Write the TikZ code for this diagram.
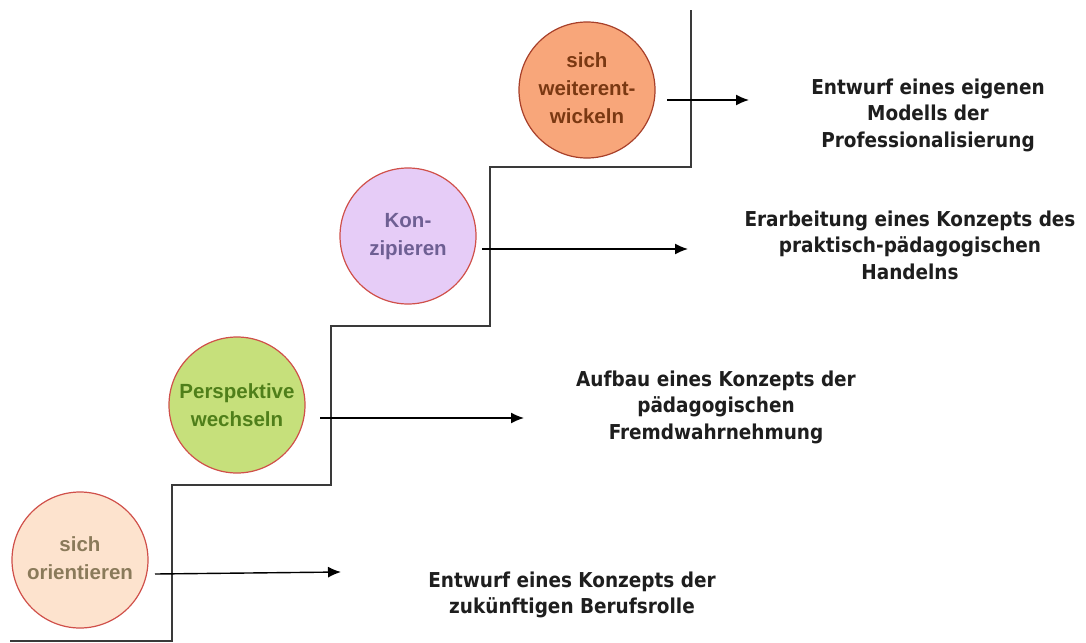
\documentclass[tikz,border=0pt]{standalone}
\usepackage{fontspec}
\usetikzlibrary{arrows.meta}
\newfontfamily\circfont{Liberation Sans}
\newfontfamily\descfont{DejaVu Sans Condensed}
\definecolor{stairgray}{HTML}{3A3A3A}
\definecolor{fillA}{HTML}{FDE3CE}
\definecolor{fillB}{HTML}{C6E07B}
\definecolor{fillC}{HTML}{E6CCF7}
\definecolor{fillD}{HTML}{F8A67A}
\definecolor{textA}{HTML}{8A7A5A}
\definecolor{textB}{HTML}{4F7F1A}
\definecolor{textC}{HTML}{6E5F93}
\definecolor{textD}{HTML}{7A3812}
\definecolor{borderA}{HTML}{D0504A}
\definecolor{borderD}{HTML}{A8402A}
\definecolor{desctext}{HTML}{1E1E1E}
\tikzset{
  x=1pt, y=-1pt,
  stage/.style={circle, draw=borderA, line width=1.2pt, minimum size=136pt, inner sep=0pt,
    align=center, font=\circfont\bfseries\fontsize{20.5}{28}\selectfont},
  desc/.style={align=center, text=desctext, font=\descfont\bfseries\fontsize{20.5}{26.5}\selectfont},
  stair/.style={draw=stairgray, line width=1.6pt},
  link/.style={draw=black, line width=1.4pt, -{Latex[length=13pt,width=11pt]}},
}
\begin{document}
\begin{tikzpicture}
\useasboundingbox[fill=white] (0,0) rectangle (1086,642);
% staircase
\coordinate (s0) at (10,641);
\coordinate (s1) at (172,641);
\coordinate (s2) at (172,485);
\coordinate (s3) at (331,485);
\coordinate (s4) at (331,326);
\coordinate (s5) at (490,326);
\coordinate (s6) at (490,167);
\coordinate (s7) at (691,167);
\coordinate (s8) at (691,10);
\draw[stair] (s0) -- (s1) -- (s2) -- (s3) -- (s4) -- (s5) -- (s6) -- (s7) -- (s8);
% stages
\node[stage, fill=fillA, text=textA] (c1) at (80,560) {\raisebox{10pt}{\begin{tabular}{@{}c@{}}sich\\orientieren\end{tabular}}};
\node[stage, fill=fillB, text=textB] (c2) at (237,405) {Perspektive\\wechseln};
\node[stage, fill=fillC, text=textC] (c3) at (408,236) {\raisebox{8pt}{\begin{tabular}{@{}c@{}}Kon-\\zipieren\end{tabular}}};
\node[stage, fill=fillD, text=textD, draw=borderD] (c4) at (587,90) {\raisebox{8pt}{\begin{tabular}{@{}c@{}}sich\\weiterent-\\wickeln\end{tabular}}};
% descriptions
\node[desc] (d1) at (928,115) {Entwurf eines eigenen\\Modells der\\Professionalisierung};
\node[desc] (d2) at (910,245) {Erarbeitung eines Konzepts des\\praktisch-p\"adagogischen\\Handelns};
\node[desc] (d3) at (716,407) {Aufbau eines Konzepts der\\p\"adagogischen\\Fremdwahrnehmung};
\node[desc] (d4) at (572,595) {Entwurf eines Konzepts der\\zuk\"unftigen Berufsrolle};
% arrows
\coordinate (a1s) at (155,574); \coordinate (a1e) at (341,572);
\coordinate (a2s) at (320,418); \coordinate (a2e) at (524,418);
\coordinate (a3s) at (482,249); \coordinate (a3e) at (688,249);
\coordinate (a4s) at (667,100); \coordinate (a4e) at (749,100);
\draw[link] (a1s) -- (a1e);
\draw[link] (a2s) -- (a2e);
\draw[link] (a3s) -- (a3e);
\draw[link] (a4s) -- (a4e);
\end{tikzpicture}
\end{document}
